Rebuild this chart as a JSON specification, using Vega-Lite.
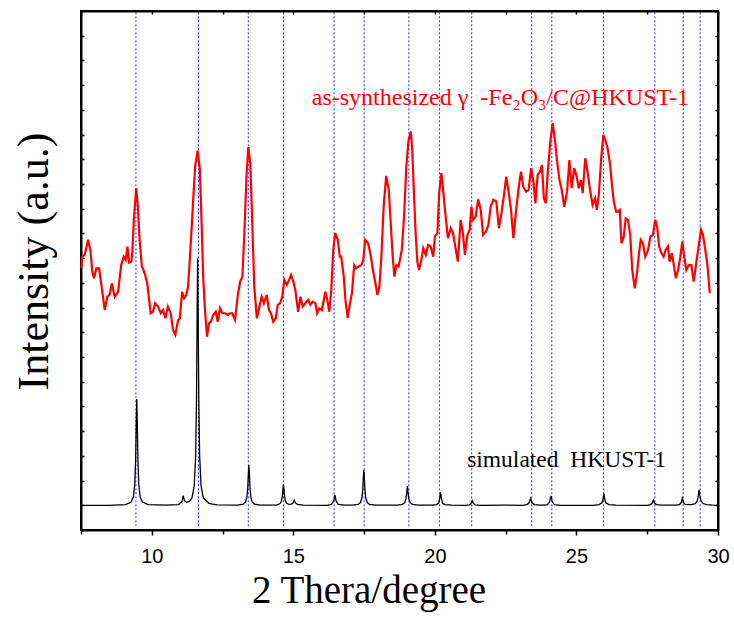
{
"$schema": "https://vega.github.io/schema/vega-lite/v6.json",
"width": 637, "height": 519,
"autosize": {"type": "none"},
"padding": {"left": 81, "top": 11, "right": 16, "bottom": 88},
"background": "white",
"config": {
 "view": {"stroke": "black", "strokeWidth": 2},
 "axis": {"labelFont": "Liberation Sans", "titleFont": "Liberation Serif", "domainColor": "black", "domainWidth": 2, "tickColor": "black", "grid": false, "titleFontWeight": "normal", "titleColor": "black", "labelColor": "black"}
},
"datasets": {
 "guides": [{"pos":9.44},{"pos":11.65},{"pos":13.41},{"pos":14.65},{"pos":16.44},{"pos":17.5},{"pos":19.08},{"pos":20.16},{"pos":21.3},{"pos":23.42},{"pos":24.13},{"pos":25.96},{"pos":27.77},{"pos":28.77},{"pos":29.37}],
 "simulated": [
{"twotheta":7.5,"intensity":1.0},{"twotheta":8.5,"intensity":1.0},{"twotheta":9.07,"intensity":1.03},{"twotheta":9.27,"intensity":1.13},{"twotheta":9.35,"intensity":1.34},{"twotheta":9.40,"intensity":1.86},{"twotheta":9.43,"intensity":2.85},{"twotheta":9.45,"intensity":4.23},{"twotheta":9.47,"intensity":5.30},{"twotheta":9.49,"intensity":4.23},{"twotheta":9.51,"intensity":2.85},{"twotheta":9.54,"intensity":1.86},{"twotheta":9.59,"intensity":1.34},{"twotheta":9.67,"intensity":1.13},{"twotheta":9.87,"intensity":1.03},
{"twotheta":10.5,"intensity":1.01},{"twotheta":10.95,"intensity":1.03},{"twotheta":11.07,"intensity":1.17},{"twotheta":11.11,"intensity":1.39},{"twotheta":11.15,"intensity":1.2},{"twotheta":11.22,"intensity":1.12},{"twotheta":11.32,"intensity":1.15},{"twotheta":11.42,"intensity":1.3},{"twotheta":11.50,"intensity":1.8},{"twotheta":11.55,"intensity":3.0},{"twotheta":11.58,"intensity":5.3},{"twotheta":11.60,"intensity":8.5},{"twotheta":11.62,"intensity":11.0},{"twotheta":11.64,"intensity":8.5},{"twotheta":11.66,"intensity":5.3},{"twotheta":11.69,"intensity":3.0},{"twotheta":11.74,"intensity":1.8},{"twotheta":11.82,"intensity":1.3},{"twotheta":12.02,"intensity":1.08},{"twotheta":12.3,"intensity":1.02},
{"twotheta":13.03,"intensity":1.01},{"twotheta":13.23,"intensity":1.05},{"twotheta":13.31,"intensity":1.13},{"twotheta":13.36,"intensity":1.33},{"twotheta":13.39,"intensity":1.70},{"twotheta":13.41,"intensity":2.22},{"twotheta":13.43,"intensity":2.63},{"twotheta":13.45,"intensity":2.22},{"twotheta":13.47,"intensity":1.70},{"twotheta":13.50,"intensity":1.33},{"twotheta":13.55,"intensity":1.13},{"twotheta":13.63,"intensity":1.05},{"twotheta":13.83,"intensity":1.01},
{"twotheta":14.40,"intensity":1.01},{"twotheta":14.45,"intensity":1.03},{"twotheta":14.53,"intensity":1.07},{"twotheta":14.58,"intensity":1.17},{"twotheta":14.61,"intensity":1.37},{"twotheta":14.63,"intensity":1.64},{"twotheta":14.65,"intensity":1.85},{"twotheta":14.67,"intensity":1.64},{"twotheta":14.69,"intensity":1.37},{"twotheta":14.72,"intensity":1.17},{"twotheta":14.77,"intensity":1.07},{"twotheta":14.85,"intensity":1.04},{"twotheta":14.93,"intensity":1.05},{"twotheta":14.99,"intensity":1.1},{"twotheta":15.03,"intensity":1.21},{"twotheta":15.07,"intensity":1.1},{"twotheta":15.15,"intensity":1.04},{"twotheta":15.35,"intensity":1.01},
{"twotheta":16.2,"intensity":1.0},{"twotheta":16.35,"intensity":1.04},{"twotheta":16.43,"intensity":1.18},{"twotheta":16.47,"intensity":1.42},{"twotheta":16.51,"intensity":1.18},{"twotheta":16.59,"intensity":1.04},{"twotheta":16.8,"intensity":1.01},
{"twotheta":17.09,"intensity":1.01},{"twotheta":17.29,"intensity":1.04},{"twotheta":17.37,"intensity":1.11},{"twotheta":17.42,"intensity":1.29},{"twotheta":17.45,"intensity":1.61},{"twotheta":17.47,"intensity":2.07},{"twotheta":17.49,"intensity":2.43},{"twotheta":17.51,"intensity":2.07},{"twotheta":17.53,"intensity":1.61},{"twotheta":17.56,"intensity":1.29},{"twotheta":17.61,"intensity":1.11},{"twotheta":17.69,"intensity":1.04},{"twotheta":17.89,"intensity":1.01},
{"twotheta":18.7,"intensity":1.01},{"twotheta":18.85,"intensity":1.04},{"twotheta":18.93,"intensity":1.1},{"twotheta":18.98,"intensity":1.26},{"twotheta":19.01,"intensity":1.55},{"twotheta":19.03,"intensity":1.78},{"twotheta":19.05,"intensity":1.55},{"twotheta":19.08,"intensity":1.26},{"twotheta":19.13,"intensity":1.1},{"twotheta":19.21,"intensity":1.04},{"twotheta":19.4,"intensity":1.01},
{"twotheta":19.9,"intensity":1.01},{"twotheta":20.05,"intensity":1.03},{"twotheta":20.13,"intensity":1.08},{"twotheta":20.17,"intensity":1.28},{"twotheta":20.2,"intensity":1.53},{"twotheta":20.23,"intensity":1.28},{"twotheta":20.27,"intensity":1.08},{"twotheta":20.35,"intensity":1.03},{"twotheta":20.6,"intensity":1.01},
{"twotheta":21.1,"intensity":1.0},{"twotheta":21.22,"intensity":1.02},{"twotheta":21.28,"intensity":1.08},{"twotheta":21.32,"intensity":1.19},{"twotheta":21.36,"intensity":1.08},{"twotheta":21.42,"intensity":1.02},{"twotheta":21.6,"intensity":1.0},{"twotheta":22.4,"intensity":1.01},
{"twotheta":23.1,"intensity":1.0},{"twotheta":23.25,"intensity":1.03},{"twotheta":23.33,"intensity":1.1},{"twotheta":23.38,"intensity":1.28},{"twotheta":23.43,"intensity":1.1},{"twotheta":23.51,"intensity":1.03},{"twotheta":23.7,"intensity":1.01},
{"twotheta":23.85,"intensity":1.01},{"twotheta":23.98,"intensity":1.03},{"twotheta":24.05,"intensity":1.14},{"twotheta":24.1,"intensity":1.38},{"twotheta":24.15,"intensity":1.14},{"twotheta":24.22,"intensity":1.03},{"twotheta":24.45,"intensity":1.0},
{"twotheta":25.6,"intensity":1.0},{"twotheta":25.8,"intensity":1.03},{"twotheta":25.9,"intensity":1.1},{"twotheta":25.94,"intensity":1.25},{"twotheta":25.97,"intensity":1.46},{"twotheta":26.0,"intensity":1.25},{"twotheta":26.04,"intensity":1.1},{"twotheta":26.14,"intensity":1.03},{"twotheta":26.4,"intensity":1.01},
{"twotheta":27.5,"intensity":1.0},{"twotheta":27.62,"intensity":1.03},{"twotheta":27.68,"intensity":1.09},{"twotheta":27.72,"intensity":1.21},{"twotheta":27.76,"intensity":1.09},{"twotheta":27.82,"intensity":1.03},{"twotheta":28.0,"intensity":1.01},
{"twotheta":28.5,"intensity":1.01},{"twotheta":28.64,"intensity":1.03},{"twotheta":28.7,"intensity":1.11},{"twotheta":28.74,"intensity":1.28},{"twotheta":28.78,"intensity":1.11},{"twotheta":28.84,"intensity":1.04},{"twotheta":29.05,"intensity":1.03},{"twotheta":29.2,"intensity":1.07},{"twotheta":29.27,"intensity":1.18},{"twotheta":29.3,"intensity":1.38},{"twotheta":29.33,"intensity":1.62},{"twotheta":29.36,"intensity":1.38},{"twotheta":29.4,"intensity":1.18},{"twotheta":29.47,"intensity":1.07},{"twotheta":29.6,"intensity":1.03},{"twotheta":29.8,"intensity":1.01},{"twotheta":30.0,"intensity":1.0}
 ],
 "synthesized": [
{"twotheta":7.51,"intensity":10.59},{"twotheta":7.54,"intensity":11.06},{"twotheta":7.63,"intensity":11.13},{"twotheta":7.75,"intensity":11.74},{"twotheta":7.83,"intensity":11.33},{"twotheta":7.90,"intensity":10.45},{"twotheta":7.96,"intensity":10.19},{"twotheta":8.04,"intensity":10.59},{"twotheta":8.14,"intensity":10.59},{"twotheta":8.22,"intensity":9.92},{"twotheta":8.34,"intensity":8.90},{"twotheta":8.43,"intensity":9.44},{"twotheta":8.51,"intensity":9.51},{"twotheta":8.59,"intensity":9.98},{"twotheta":8.69,"intensity":9.44},{"twotheta":8.81,"intensity":9.64},{"twotheta":8.92,"intensity":10.72},{"twotheta":9.01,"intensity":11.06},{"twotheta":9.08,"intensity":10.93},{"twotheta":9.14,"intensity":11.47},{"twotheta":9.20,"intensity":10.82},{"twotheta":9.28,"intensity":10.86},{"twotheta":9.31,"intensity":11.20},{"twotheta":9.37,"intensity":12.61},{"twotheta":9.45,"intensity":13.83},{"twotheta":9.51,"intensity":13.08},{"twotheta":9.57,"intensity":11.74},{"twotheta":9.65,"intensity":10.66},{"twotheta":9.75,"intensity":10.39},{"twotheta":9.84,"intensity":9.98},{"twotheta":9.96,"intensity":8.77},{"twotheta":10.04,"intensity":8.83},{"twotheta":10.12,"intensity":9.17},{"twotheta":10.22,"intensity":9.04},{"twotheta":10.32,"intensity":8.77},{"twotheta":10.40,"intensity":8.90},{"twotheta":10.48,"intensity":8.57},{"twotheta":10.57,"intensity":9.04},{"twotheta":10.67,"intensity":8.77},{"twotheta":10.75,"intensity":8.09},{"twotheta":10.83,"intensity":7.89},{"twotheta":10.93,"intensity":8.50},{"twotheta":10.99,"intensity":8.57},{"twotheta":11.07,"intensity":9.64},{"twotheta":11.14,"intensity":9.38},{"twotheta":11.22,"intensity":9.51},{"twotheta":11.28,"intensity":9.85},{"twotheta":11.35,"intensity":11.06},{"twotheta":11.43,"intensity":12.68},{"twotheta":11.53,"intensity":14.70},{"twotheta":11.62,"intensity":15.35},{"twotheta":11.70,"intensity":14.57},{"twotheta":11.76,"intensity":12.41},{"twotheta":11.82,"intensity":10.12},{"twotheta":11.88,"intensity":8.90},{"twotheta":11.95,"intensity":7.82},{"twotheta":12.02,"intensity":8.36},{"twotheta":12.09,"intensity":8.43},{"twotheta":12.17,"intensity":8.70},{"twotheta":12.26,"intensity":8.83},{"twotheta":12.33,"intensity":8.43},{"twotheta":12.41,"intensity":8.97},{"twotheta":12.49,"intensity":8.77},{"twotheta":12.59,"intensity":8.77},{"twotheta":12.68,"intensity":8.70},{"twotheta":12.76,"intensity":8.77},{"twotheta":12.84,"intensity":8.77},{"twotheta":12.94,"intensity":8.50},{"twotheta":13.04,"intensity":9.51},{"twotheta":13.12,"intensity":10.05},{"twotheta":13.20,"intensity":10.25},{"twotheta":13.27,"intensity":12.01},{"twotheta":13.35,"intensity":14.44},{"twotheta":13.41,"intensity":15.49},{"twotheta":13.48,"intensity":14.84},{"twotheta":13.55,"intensity":12.41},{"twotheta":13.62,"intensity":9.85},{"twotheta":13.71,"intensity":8.57},{"twotheta":13.79,"intensity":8.97},{"twotheta":13.88,"intensity":9.44},{"twotheta":13.96,"intensity":9.17},{"twotheta":14.06,"intensity":9.51},{"twotheta":14.14,"intensity":8.90},{"twotheta":14.21,"intensity":8.77},{"twotheta":14.29,"intensity":8.43},{"twotheta":14.38,"intensity":8.57},{"twotheta":14.45,"intensity":9.11},{"twotheta":14.53,"intensity":9.17},{"twotheta":14.61,"intensity":9.44},{"twotheta":14.68,"intensity":10.12},{"twotheta":14.77,"intensity":9.92},{"twotheta":14.85,"intensity":10.12},{"twotheta":14.92,"intensity":10.32},{"twotheta":15.00,"intensity":10.05},{"twotheta":15.07,"intensity":9.71},{"twotheta":15.17,"intensity":8.83},{"twotheta":15.25,"intensity":9.44},{"twotheta":15.33,"intensity":9.04},{"twotheta":15.42,"intensity":9.17},{"twotheta":15.52,"intensity":9.31},{"twotheta":15.60,"intensity":9.11},{"twotheta":15.68,"intensity":9.24},{"twotheta":15.78,"intensity":9.17},{"twotheta":15.84,"intensity":8.77},{"twotheta":15.92,"intensity":8.97},{"twotheta":16.01,"intensity":8.90},{"twotheta":16.13,"intensity":9.64},{"twotheta":16.20,"intensity":9.31},{"twotheta":16.27,"intensity":8.83},{"twotheta":16.34,"intensity":9.71},{"twotheta":16.41,"intensity":11.33},{"twotheta":16.48,"intensity":12.01},{"twotheta":16.57,"intensity":11.74},{"twotheta":16.64,"intensity":11.06},{"twotheta":16.69,"intensity":11.06},{"twotheta":16.78,"intensity":10.25},{"twotheta":16.84,"intensity":9.31},{"twotheta":16.92,"intensity":8.57},{"twotheta":16.99,"intensity":9.11},{"twotheta":17.07,"intensity":9.58},{"twotheta":17.15,"intensity":10.72},{"twotheta":17.22,"intensity":10.59},{"twotheta":17.31,"intensity":10.66},{"twotheta":17.40,"intensity":10.72},{"twotheta":17.47,"intensity":10.93},{"twotheta":17.54,"intensity":11.74},{"twotheta":17.64,"intensity":11.60},{"twotheta":17.72,"intensity":11.20},{"twotheta":17.80,"intensity":10.59},{"twotheta":17.90,"intensity":9.98},{"twotheta":17.97,"intensity":9.51},{"twotheta":18.04,"intensity":9.85},{"twotheta":18.11,"intensity":11.06},{"twotheta":18.19,"intensity":13.08},{"twotheta":18.28,"intensity":14.33},{"twotheta":18.37,"intensity":13.76},{"twotheta":18.44,"intensity":12.41},{"twotheta":18.51,"intensity":11.06},{"twotheta":18.57,"intensity":10.25},{"twotheta":18.64,"intensity":10.72},{"twotheta":18.72,"intensity":10.66},{"twotheta":18.83,"intensity":11.33},{"twotheta":18.91,"intensity":12.68},{"twotheta":18.99,"intensity":14.70},{"twotheta":19.07,"intensity":15.78},{"twotheta":19.15,"intensity":16.12},{"twotheta":19.20,"intensity":15.38},{"twotheta":19.26,"intensity":13.63},{"twotheta":19.32,"intensity":12.01},{"twotheta":19.38,"intensity":10.86},{"twotheta":19.44,"intensity":10.52},{"twotheta":19.52,"intensity":10.93},{"twotheta":19.59,"intensity":11.40},{"twotheta":19.68,"intensity":11.13},{"twotheta":19.76,"intensity":11.53},{"twotheta":19.85,"intensity":11.47},{"twotheta":19.94,"intensity":11.06},{"twotheta":20.00,"intensity":11.87},{"twotheta":20.09,"intensity":12.01},{"twotheta":20.15,"intensity":13.63},{"twotheta":20.23,"intensity":14.44},{"twotheta":20.30,"intensity":13.63},{"twotheta":20.38,"intensity":12.68},{"twotheta":20.46,"intensity":11.81},{"twotheta":20.56,"intensity":12.21},{"twotheta":20.64,"intensity":12.01},{"twotheta":20.74,"intensity":11.33},{"twotheta":20.81,"intensity":10.86},{"twotheta":20.91,"intensity":12.55},{"twotheta":20.99,"intensity":12.01},{"twotheta":21.06,"intensity":11.13},{"twotheta":21.15,"intensity":11.94},{"twotheta":21.23,"intensity":12.14},{"twotheta":21.29,"intensity":13.08},{"twotheta":21.35,"intensity":12.55},{"twotheta":21.44,"intensity":12.68},{"twotheta":21.53,"intensity":13.38},{"twotheta":21.62,"intensity":12.95},{"twotheta":21.70,"intensity":11.94},{"twotheta":21.80,"intensity":12.07},{"twotheta":21.89,"intensity":12.34},{"twotheta":21.97,"intensity":13.08},{"twotheta":22.06,"intensity":13.36},{"twotheta":22.17,"intensity":13.29},{"twotheta":22.26,"intensity":12.21},{"twotheta":22.36,"intensity":12.88},{"twotheta":22.45,"intensity":13.63},{"twotheta":22.52,"intensity":14.30},{"twotheta":22.61,"intensity":13.63},{"twotheta":22.69,"intensity":12.95},{"twotheta":22.77,"intensity":11.81},{"twotheta":22.87,"intensity":12.95},{"twotheta":22.95,"intensity":13.76},{"twotheta":23.04,"intensity":14.50},{"twotheta":23.12,"intensity":13.89},{"twotheta":23.22,"intensity":13.69},{"twotheta":23.31,"intensity":13.76},{"twotheta":23.40,"intensity":14.64},{"twotheta":23.48,"intensity":14.10},{"twotheta":23.55,"intensity":13.22},{"twotheta":23.63,"intensity":14.37},{"twotheta":23.71,"intensity":14.50},{"twotheta":23.78,"intensity":14.77},{"twotheta":23.85,"intensity":13.42},{"twotheta":23.92,"intensity":13.22},{"twotheta":23.98,"intensity":14.37},{"twotheta":24.07,"intensity":15.65},{"twotheta":24.16,"intensity":16.46},{"twotheta":24.24,"intensity":15.78},{"twotheta":24.31,"intensity":14.97},{"twotheta":24.40,"intensity":14.16},{"twotheta":24.48,"intensity":13.76},{"twotheta":24.57,"intensity":13.08},{"twotheta":24.67,"intensity":13.69},{"twotheta":24.75,"intensity":14.97},{"twotheta":24.83,"intensity":13.83},{"twotheta":24.92,"intensity":14.64},{"twotheta":25.01,"intensity":14.30},{"twotheta":25.08,"intensity":13.83},{"twotheta":25.16,"intensity":14.16},{"twotheta":25.22,"intensity":13.63},{"twotheta":25.31,"intensity":15.04},{"twotheta":25.40,"intensity":14.44},{"twotheta":25.48,"intensity":13.76},{"twotheta":25.57,"intensity":13.15},{"twotheta":25.66,"intensity":13.42},{"twotheta":25.72,"intensity":12.95},{"twotheta":25.79,"intensity":13.56},{"twotheta":25.87,"intensity":14.97},{"twotheta":25.95,"intensity":15.99},{"twotheta":26.02,"intensity":15.78},{"twotheta":26.10,"intensity":15.45},{"twotheta":26.19,"intensity":14.77},{"twotheta":26.26,"intensity":13.89},{"twotheta":26.32,"intensity":13.29},{"twotheta":26.40,"intensity":12.88},{"twotheta":26.47,"intensity":12.88},{"twotheta":26.53,"intensity":12.95},{"twotheta":26.59,"intensity":11.60},{"twotheta":26.67,"intensity":11.87},{"twotheta":26.74,"intensity":12.61},{"twotheta":26.82,"intensity":12.55},{"twotheta":26.90,"intensity":11.94},{"twotheta":26.97,"intensity":10.52},{"twotheta":27.06,"intensity":9.78},{"twotheta":27.14,"intensity":10.39},{"twotheta":27.21,"intensity":11.20},{"twotheta":27.27,"intensity":11.74},{"twotheta":27.35,"intensity":11.60},{"twotheta":27.43,"intensity":11.06},{"twotheta":27.53,"intensity":11.33},{"twotheta":27.61,"intensity":11.87},{"twotheta":27.70,"intensity":11.94},{"twotheta":27.78,"intensity":12.55},{"twotheta":27.85,"intensity":12.27},{"twotheta":27.92,"intensity":11.47},{"twotheta":28.00,"intensity":11.20},{"twotheta":28.08,"intensity":11.06},{"twotheta":28.15,"intensity":11.33},{"twotheta":28.23,"intensity":11.47},{"twotheta":28.29,"intensity":10.86},{"twotheta":28.37,"intensity":11.20},{"twotheta":28.44,"intensity":10.72},{"twotheta":28.51,"intensity":10.19},{"twotheta":28.59,"intensity":10.52},{"twotheta":28.67,"intensity":11.06},{"twotheta":28.74,"intensity":11.67},{"twotheta":28.80,"intensity":11.13},{"twotheta":28.88,"intensity":10.52},{"twotheta":28.97,"intensity":10.72},{"twotheta":29.06,"intensity":10.72},{"twotheta":29.14,"intensity":10.05},{"twotheta":29.23,"intensity":10.79},{"twotheta":29.33,"intensity":11.60},{"twotheta":29.40,"intensity":12.14},{"twotheta":29.47,"intensity":11.94},{"twotheta":29.55,"intensity":11.33},{"twotheta":29.62,"intensity":10.79},{"twotheta":29.71,"intensity":9.58}
 ],
 "labels": [{"twotheta":15.65,"intensity":17.2,"label":"as-synthesized γ\u00a0 -Fe₂O₃/C@HKUST-1","series":"synthesized"},{"twotheta":21.14,"intensity":2.54,"label":"simulated\u00a0 HKUST-1","series":"simulated"}]
},
"layer": [
 {
  "data": {"name": "guides"},
  "mark": {"type": "rule", "color": "#2a2aff", "strokeDash": [2, 2], "strokeWidth": 1},
  "encoding": {
   "x": {"field": "pos", "type": "quantitative", "scale": {"domain": [7.5, 30], "nice": false, "zero": false},
     "axis": {"orient": "bottom", "values": [7.5,10,12.5,15,17.5,20,22.5,25,27.5,30], "labelExpr": "datum.value % 5 === 0 ? datum.label : ''", "format": "d", "tickSize": {"condition": {"test": "datum.value % 5 === 0", "value": 5}, "value": 4}, "tickWidth": 1.5, "labelFontSize": 20, "labelPadding": 11.5, "labelFlush": false, "labelOverlap": false, "title": "2 Thera/degree", "titleFontSize": 39, "titleX": 287.5, "titleY": 72, "titleAlign": "center", "titleBaseline": "alphabetic"}},
   "y": {"datum": 0.15, "type": "quantitative", "scale": {"domain": [0, 21], "nice": false, "zero": false},
     "axis": {"orient": "left", "values": [0,1,2,3,4,5,6,7,8,9,10,11,12,13,14,15,16,17,18,19,20,21], "labels": false, "tickSize": -3, "tickWidth": 1.5, "title": "Intensity (a.u.)", "titleFontSize": 44, "titleAngle": -90, "titleX": -34, "titleY": 250, "titleAlign": "center", "titleBaseline": "alphabetic"}},
   "y2": {"datum": 21}
  }
 },
 {
  "data": {"name": "simulated"},
  "mark": {"type": "line", "color": "black", "strokeWidth": 1.3},
  "encoding": {
   "x": {"field": "twotheta", "type": "quantitative", "axis": {"orient": "top", "values": [7.5,10,12.5,15,17.5,20,22.5,25,27.5,30], "labels": false, "tickSize": -3, "tickWidth": 1.5, "title": null}},
   "y": {"field": "intensity", "type": "quantitative", "axis": {"orient": "right", "values": [0,1,2,3,4,5,6,7,8,9,10,11,12,13,14,15,16,17,18,19,20,21], "labels": false, "tickSize": -3, "tickWidth": 1.5, "title": null}}
  }
 },
 {
  "data": {"name": "synthesized"},
  "mark": {"type": "line", "color": "#ff0000", "strokeWidth": 2.2},
  "encoding": {
   "x": {"field": "twotheta", "type": "quantitative", "axis": null},
   "y": {"field": "intensity", "type": "quantitative", "axis": null}
  }
 },
 {
  "data": {"name": "labels"},
  "transform": [{"filter": "datum.series === 'synthesized'"}],
  "mark": {"type": "text", "align": "left", "baseline": "alphabetic", "font": "Liberation Serif", "fontSize": 24, "color": "#ff0000"},
  "encoding": {
   "x": {"field": "twotheta", "type": "quantitative", "axis": null},
   "y": {"field": "intensity", "type": "quantitative", "axis": null},
   "text": {"field": "label"}
  }
 },
 {
  "data": {"name": "labels"},
  "transform": [{"filter": "datum.series === 'simulated'"}],
  "mark": {"type": "text", "align": "left", "baseline": "alphabetic", "font": "Liberation Serif", "fontSize": 23.5, "color": "black"},
  "encoding": {
   "x": {"field": "twotheta", "type": "quantitative", "axis": null},
   "y": {"field": "intensity", "type": "quantitative", "axis": null},
   "text": {"field": "label"}
  }
 }
],
"resolve": {"axis": {"x": "independent", "y": "independent"}}
}
